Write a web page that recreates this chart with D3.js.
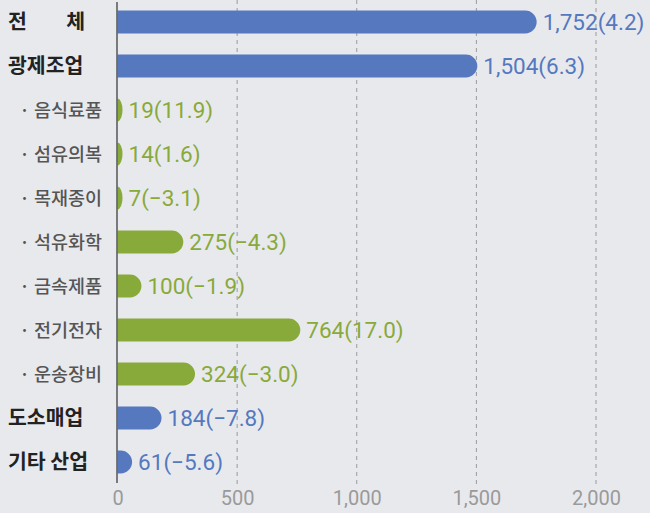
<!DOCTYPE html>
<meta charset="utf-8">
<style>
body { margin: 0; background: #e8e9ed; }
svg { display: block; background: #e8e9ed; }
.grid line { stroke: #9a9a9a; stroke-dasharray: 4,4; }
.axis--x path { display: none; }
.axis--x text { fill: #9a9a9a; font-family: Roboto, sans-serif; font-size: 20px; }
.cat-main { font-family: "Noto Sans CJK KR", sans-serif; font-weight: 700; font-size: 20.5px; fill: #222; }
.cat-sub { font-family: "Noto Sans CJK KR", sans-serif; font-weight: 500; font-size: 18.5px; fill: #555; }
.value { font-family: Roboto, sans-serif; font-size: 22.5px; }
</style>
<svg width="650" height="513"></svg>
<script src="https://d3js.org/d3.v7.min.js"></script>
<script>

// industries, top to bottom
var names = ["전체", "광제조업", "음식료품", "섬유의복", "목재종이", "석유화학", "금속제품", "전기전자", "운송장비", "도소매업", "기타 산업"];
var groups = ["main", "main", "sub", "sub", "sub", "sub", "sub", "sub", "sub", "main", "main"];
var values = [1752, 1504, 19, 14, 7, 275, 100, 764, 324, 184, 61];
var changes = [4.2, 6.3, 11.9, 1.6, -3.1, -4.3, -1.9, 17.0, -3.0, -7.8, -5.6];
var ticks = [0, 500, 1000, 1500, 2000];

var colors = {main: "#5578bf", sub: "#88aa3b"};

var svg = d3.select("svg"),
    plotBottom = 484;

var x = d3.scaleLinear().domain([0, 2000]).range([117.5, 596]),
    y = d3.scaleBand().domain(d3.range(names.length)).range([0, plotBottom])
        .paddingInner(0.48).paddingOuter(0.24);

var rows = names.map(function(n, i) {
  return {i: i, name: n, group: groups[i], value: values[i], change: changes[i]};
});

// dashed gridlines
svg.append("g")
    .attr("class", "grid")
  .selectAll("line")
  .data(ticks.slice(1))
  .enter().append("line")
    .attr("x1", function(d) { return x(d); })
    .attr("x2", function(d) { return x(d); })
    .attr("y1", 0)
    .attr("y2", plotBottom);

// tick labels
svg.append("g")
    .attr("class", "axis axis--x")
    .attr("transform", "translate(0," + plotBottom + ")")
    .call(d3.axisBottom(x).tickValues(ticks).tickFormat(d3.format(",")).tickSize(0).tickPadding(6))
    .call(function(g) { g.selectAll(".tick text").attr("dy", "0.75em"); });

// bars: square at the axis, rounded at the end
function barPath(d) {
  var x0 = x(0),
      y0 = y(d.i),
      h = y.bandwidth(),
      w = Math.max(x(d.value) - x0, 5),
      ry = h / 2,
      rx = Math.min(ry, w);
  return "M" + x0 + "," + y0 +
      "h" + (w - rx) +
      "a" + rx + "," + ry + " 0 0 1 " + rx + "," + ry +
      "a" + rx + "," + ry + " 0 0 1 " + (-rx) + "," + ry +
      "h" + (-(w - rx)) + "Z";
}

svg.append("g")
  .selectAll("path")
  .data(rows)
  .enter().append("path")
    .attr("d", barPath)
    .attr("fill", function(d) { return colors[d.group]; });

// axis line at zero
svg.append("line")
    .attr("x1", 117).attr("x2", 117)
    .attr("y1", 2).attr("y2", plotBottom - 1)
    .attr("stroke", "#555")
    .attr("stroke-width", 1.5);

// value labels
var fmtV = d3.format(","), fmtC = d3.format(".1f");
svg.append("g")
  .selectAll("text")
  .data(rows)
  .enter().append("text")
    .attr("class", "value")
    .attr("x", function(d) { return x(0) + Math.max(x(d.value) - x(0), 5) + 6; })
    .attr("y", function(d) { return y(d.i) + y.bandwidth() / 2; })
    .attr("dy", "0.36em")
    .attr("fill", function(d) { return colors[d.group]; })
    .text(function(d) { return fmtV(d.value) + "(" + fmtC(d.change) + ")"; });

// category labels
var labels = svg.append("g")
  .selectAll("text")
  .data(rows)
  .enter().append("text")
    .attr("class", function(d) { return d.group == "main" ? "cat-main" : "cat-sub"; })
    .attr("y", function(d) { return y(d.i) + y.bandwidth() / 2; })
    .attr("dy", "0.36em");

labels.filter(function(d) { return d.group == "main"; })
    .attr("x", 8)
    .text(function(d) { return d.name; })
    .filter(function(d) { return d.i == 0; })
    .attr("textLength", 77)
    .attr("lengthAdjust", "spacing");

labels.filter(function(d) { return d.group == "sub"; })
    .attr("x", 102)
    .attr("text-anchor", "end")
    .text(function(d) { return "· " + d.name; });

</script>
